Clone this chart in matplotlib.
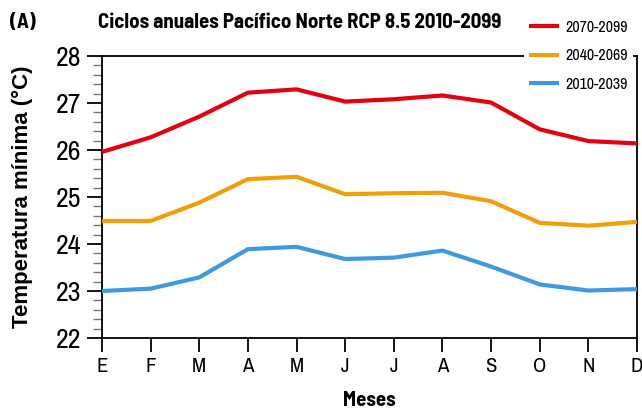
import matplotlib
matplotlib.use("Agg")
import matplotlib.pyplot as plt
from matplotlib import font_manager as fm
from matplotlib.ticker import MultipleLocator

months = ["E", "F", "M", "A", "M", "J", "J", "A", "S", "O", "N", "D"]
t_2070_2099 = [25.96, 26.27, 26.71, 27.22, 27.29, 27.03, 27.08, 27.16, 27.01, 26.44, 26.19, 26.14]
t_2040_2069 = [24.49, 24.49, 24.88, 25.38, 25.43, 25.06, 25.08, 25.09, 24.91, 24.45, 24.39, 24.47]
t_2010_2039 = [23.00, 23.05, 23.29, 23.89, 23.94, 23.68, 23.71, 23.86, 23.52, 23.14, 23.01, 23.04]
labels = ["2070-2099", "2040-2069", "2010-2039"]
colors = ["#e3000f", "#f29e0c", "#3d9ae0"]

names = {f.name for f in fm.fontManager.ttflist}
def pick(*cands):
    for c in cands:
        if c in names:
            return c
    return "DejaVu Sans"
narrow = pick("Archivo Narrow", "Barlow Semi Condensed", "Liberation Sans Narrow")
narrow_b = pick("Barlow Semi Condensed", "Asap Condensed", "Archivo Narrow")
reg = pick("Liberation Sans", "DejaVu Sans")

fig = plt.figure(figsize=(6.42, 4.11), dpi=100)
ax = fig.add_axes([102/642, 1-338/411, 535/642, 282/411])

x = list(range(len(months)))
for vals, lab, c in zip([t_2070_2099, t_2040_2069, t_2010_2039], labels, colors):
    ax.plot(x, vals, color=c, lw=3.0, label=lab, solid_capstyle="butt", zorder=3)

ax.set_xlim(0, 11)
ax.set_ylim(22, 28)
ax.set_xticks(x)
ax.set_xticklabels(months, fontfamily=narrow, fontsize=15)
ax.yaxis.set_major_locator(MultipleLocator(1))
ax.yaxis.set_minor_locator(MultipleLocator(0.2))
for lab in ax.get_yticklabels():
    lab.set_fontfamily(narrow)
    lab.set_fontsize(20)
ax.tick_params(axis="y", which="major", direction="out", length=11, width=1.3, color="black", pad=4)
ax.tick_params(axis="x", which="major", direction="out", length=10, width=1.3, color="black", pad=4)
ax.tick_params(axis="y", which="minor", direction="out", length=6.5, width=1.0, color="#777777")
for s in ax.spines.values():
    s.set_linewidth(1.3)

ax.set_ylabel("Temperatura mínima (°C)", fontfamily=reg, fontweight="bold", fontsize=16)
ax.yaxis.set_label_coords(-69/535, 0.5)
ax.set_xlabel("Meses", fontfamily=narrow_b, fontweight="bold", fontsize=15)
ax.xaxis.set_label_coords(0.5, -(411-338-1)/282)
ax.xaxis.label.set_va("bottom")

fig.text(300/642, 1-22/411, "Ciclos anuales Pacífico Norte RCP 8.5 2010-2099",
         fontfamily=narrow_b, fontweight="bold", fontsize=15, ha="center", va="center")
fig.text(10/642, 1-22/411, "(A)", fontfamily=narrow_b, fontweight="bold", fontsize=15,
         ha="left", va="center")

leg = fig.legend(loc="upper left", bbox_to_anchor=(524/642, 1-15/411), frameon=True,
                 facecolor="white", edgecolor="none", framealpha=1,
                 prop={"family": narrow, "size": 11.5}, handlelength=1.9, handletextpad=0.4,
                 labelspacing=0.85, borderpad=0.3, borderaxespad=0)
for h in leg.get_lines():
    h.set_linewidth(3)
leg.set_zorder(5)

fig.savefig("out.png", dpi=100)
